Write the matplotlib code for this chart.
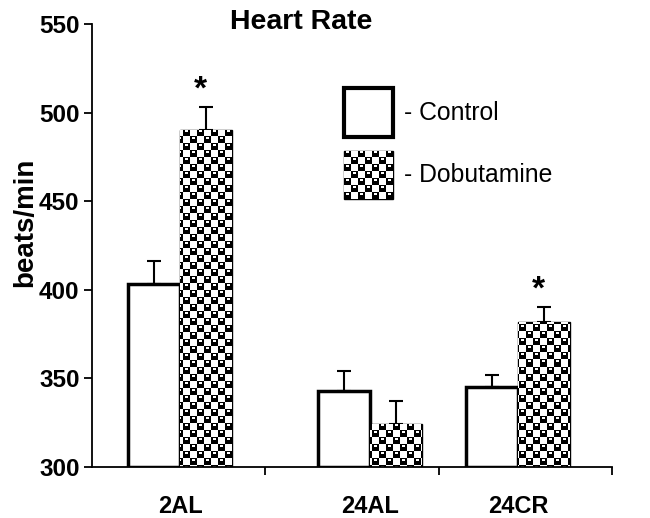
import numpy as np
import matplotlib as mpl
mpl.use('Agg')
import matplotlib.pyplot as plt
from matplotlib.patches import Rectangle

plt.rcParams['font.family'] = ['Liberation Sans', 'DejaVu Sans']

groups = ["2AL", "24AL", "24CR"]
control = [403, 343, 345]
control_err = [13, 11, 7]
dobutamine = [490, 324, 382]
dobutamine_err = [13, 13, 8]
significant = [True, False, True]   # asterisk over dobutamine bar

# layout (x axis runs 0..3, boundaries ticked at 1, 2, 3)
group_x = np.array([0.508, 1.604, 2.458])
width = 0.30


def pattern(h, w, cell=7, rad=4.7):
    # checkered black balls with a white highlight, like the old excel fill
    yy, xx = np.mgrid[0:h, 0:w]
    cx, cy = xx // cell, yy // cell
    lx = xx % cell - (cell - 1) / 2.
    ly = yy % cell - (cell - 1) / 2.
    ball = ((cx + cy) % 2 == 0) & (lx**2 + ly**2 <= rad**2)
    # neighbours' balls leaking in at the corners
    for dx in (-cell, cell):
        for dy in (-cell, cell):
            ball |= ((cx + cy) % 2 == 1) & ((lx + dx)**2 + (ly + dy)**2 <= rad**2)
    hl = ((cx + cy) % 2 == 0) & (ly >= -2) & (ly <= -1) & (np.abs(lx) <= 1.5)
    img = np.ones((h, w))
    img[ball] = 0
    img[hl] = 1
    return img


fig = plt.figure(figsize=(6.5, 5.18), dpi=100)
ax = fig.add_axes([0.1415, 0.0985, 0.80, 0.8552])
ax.set_xlim(0, 3)
ax.set_ylim(300, 550)

tex = pattern(443, 520)

bars_c = ax.bar(group_x - width / 2, np.array(control) - 300, width, bottom=300,
                facecolor='white', edgecolor='black', linewidth=2.5, zorder=2)
bars_d = ax.bar(group_x + width / 2, np.array(dobutamine) - 300, width, bottom=300,
                facecolor='white', edgecolor='black', linewidth=1.0, zorder=2)
for b in bars_d:
    im = ax.imshow(tex, cmap='gray', vmin=0, vmax=1, extent=[0, 3, 300, 550],
                   origin='upper', interpolation='nearest', aspect='auto', zorder=2.5)
    im.set_clip_path(b)

ax.errorbar(group_x - width / 2, control, yerr=[np.zeros(3), control_err], fmt='none',
            ecolor='black', elinewidth=1.5, capsize=5, capthick=1.5, zorder=1)
ax.errorbar(group_x + width / 2, dobutamine, yerr=[np.zeros(3), dobutamine_err], fmt='none',
            ecolor='black', elinewidth=1.5, capsize=5, capthick=1.5, zorder=1)

for x, v, e, s in zip(group_x + width / 2, dobutamine, dobutamine_err, significant):
    if s:
        ax.text(x - 0.03, v + e + 1, '*', ha='center', va='bottom', fontsize=24, fontweight='bold')

# legend drawn by hand
r1 = Rectangle((0.485, 0.745), 0.094, 0.11, transform=ax.transAxes, facecolor='white',
               edgecolor='black', linewidth=3, zorder=3)
r2 = Rectangle((0.485, 0.605), 0.094, 0.108, transform=ax.transAxes, facecolor='white',
               edgecolor='black', linewidth=1, zorder=3)
ax.add_patch(r1)
ax.add_patch(r2)
im = ax.imshow(tex, cmap='gray', vmin=0, vmax=1, extent=[0, 1, 0, 1], transform=ax.transAxes,
               origin='upper', interpolation='nearest', aspect='auto', zorder=3.5)
im.set_clip_path(r2)
ax.set_xlim(0, 3)
ax.set_ylim(300, 550)
ax.text(0.60, 0.80, '- Control', transform=ax.transAxes, fontsize=17.8, va='center')
ax.text(0.60, 0.658, '- Dobutamine', transform=ax.transAxes, fontsize=17.8, va='center')

ax.spines['top'].set_visible(False)
ax.spines['right'].set_visible(False)
ax.spines['left'].set_linewidth(1.3)
ax.spines['bottom'].set_linewidth(1.3)

ax.set_yticks([300, 350, 400, 450, 500, 550])
ax.tick_params(axis='y', direction='out', length=6, width=1.3, labelsize=17.5, pad=3)
for t in ax.get_yticklabels():
    t.set_fontweight('bold')

ax.set_xticks([1, 2, 3])
ax.set_xticklabels([])
ax.tick_params(axis='x', which='major', direction='out', length=6, width=1.3)
ax.set_xticks(group_x, minor=True)
ax.set_xticklabels(groups, minor=True, fontsize=17, fontweight='bold')
ax.tick_params(axis='x', which='minor', length=0, pad=20)

ax.set_ylabel('beats/min', fontsize=20, fontweight='bold')
ax.yaxis.set_label_coords(-0.104, 0.553)
fig.text(301 / 650, 1 - 22 / 518, 'Heart Rate', ha='center', va='center', fontsize=20.5,
         fontweight='bold')

plt.savefig('out.png', dpi=100)
